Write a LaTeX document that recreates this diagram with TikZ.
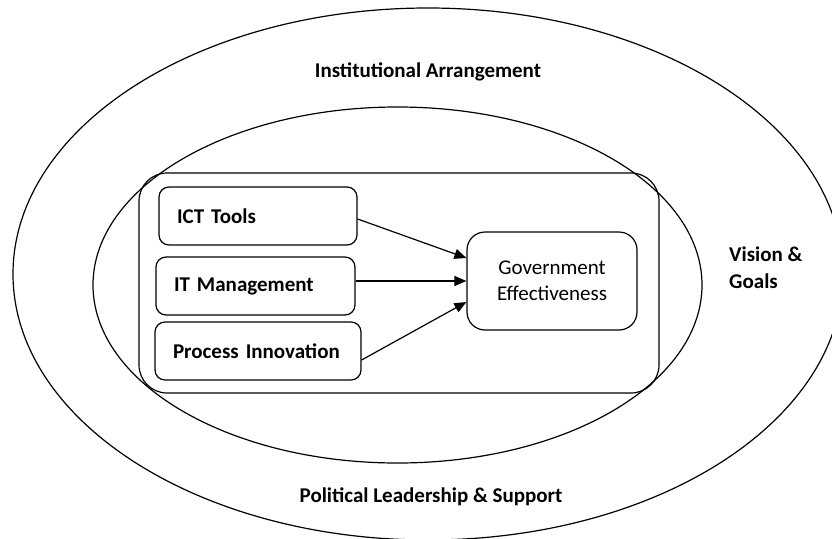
\documentclass[tikz,border=0pt]{standalone}
\usepackage{fontspec}
\setmainfont{Carlito}
\usetikzlibrary{arrows.meta}
\tikzset{
  ring/.style={draw, line width=1.2pt},
  frame/.style={draw, line width=1.2pt, rounded corners=28pt},
  factor/.style={draw, line width=1.2pt, rounded corners=10pt, minimum height=58pt,
    inner xsep=18pt, align=left, font=\fontsize{21}{26}\selectfont\bfseries},
  outcome/.style={draw, line width=1.2pt, rounded corners=18pt, minimum width=170pt,
    minimum height=98pt, align=center, font=\fontsize{21}{26}\selectfont},
  layer/.style={font=\fontsize{21}{27}\selectfont\bfseries, inner sep=0pt},
  arr/.style={line width=1.2pt, -{Triangle[length=12pt,width=10pt]}}
}
\begin{document}
\begin{tikzpicture}[x=1pt,y=-1pt]
  \useasboundingbox (0,0) rectangle (832,538);
  \clip (0,0) rectangle (832,538);
  % nested context layers
  \draw[ring] (428,274) ellipse [x radius=415pt, y radius=266pt];
  \draw[ring] (397.5,285) ellipse [x radius=304.5pt, y radius=178pt];
  \node[layer] (inst) at (428,72) {Institutional Arrangement};
  \node[layer] (pol) at (431,497) {Political Leadership \& Support};
  \node[layer, anchor=west, align=left] (vis) at (729,268) {Vision \&\\Goals};
  % core model
  \node[frame, minimum width=520pt, minimum height=220pt] (core) at (399,283) {};
  \node[factor, text width=162pt] (ict) at (258,216) {ICT Tools};
  \node[factor, text width=163pt] (itm) at (255.5,286) {IT Management};
  \node[factor, text width=170pt] (proc) at (258,351) {Process Innovation};
  \node[outcome] (gov) at (552,281) {Government\\Effectiveness};
  \draw[arr] ([yshift=-3pt]ict.east) -- ([yshift=23pt]gov.west);
  \draw[arr] ([yshift=5pt]itm.east) -- (gov.west);
  \draw[arr] ([yshift=-9pt]proc.east) -- ([yshift=-21pt]gov.west);
\end{tikzpicture}
\end{document}
